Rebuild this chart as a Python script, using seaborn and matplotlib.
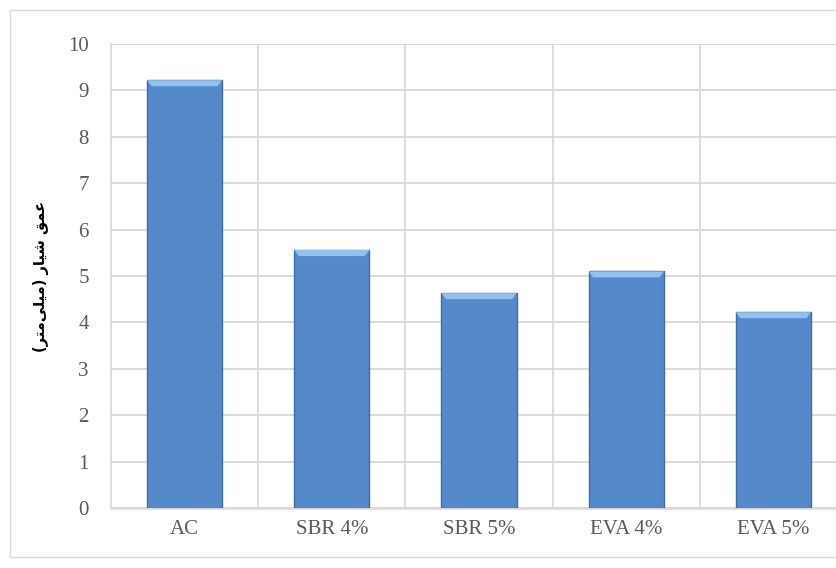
import matplotlib
matplotlib.use("Agg")
import matplotlib.pyplot as plt
from matplotlib.patches import Rectangle, Polygon
from matplotlib.ticker import MultipleLocator, FixedLocator
import matplotlib.patheffects as pe
import seaborn as sns
import pandas as pd

# data
categories = ["AC", "SBR 4%", "SBR 5%", "EVA 4%", "EVA 5%"]
depth_mm = [9.22, 5.56, 4.63, 5.10, 4.22]

# "عمق شیار (میلی‌متر)" in shaped presentation forms, visual (left-to-right) order,
# since matplotlib does no Arabic shaping / bidi on its own
ylabel = ("(" + "\uFEAE\uFE98\uFEE3" + "\uFEF0\uFEE0\uFEF4\uFEE3" + ")"
          + " " + "\uFEAD\uFE8E\uFEF4\uFEB7"
          + " " + "\uFED6\uFEE4\uFECB")

sns.set_style("white")
plt.rcParams['font.family'] = ['Liberation Serif', 'DejaVu Serif']

df = pd.DataFrame({"cat": categories, "val": depth_mm})

fig = plt.figure(figsize=(8.37, 5.68), dpi=100)
# axes runs past the right edge, as the reference is cropped there
ax = fig.add_axes([111/837, 60/568, 736/837, 464/568])

grid_c = "#D9D9D9"
sns.barplot(data=df, x="cat", y="val", color="#558ACA", width=0.51,
            edgecolor="#3E6DA3", linewidth=1.0, saturation=1, ax=ax, zorder=3)

for p in ax.patches:
    p.set_path_effects([pe.SimplePatchShadow(offset=(0, -2), shadow_rgbFace="#7a7a7a", alpha=0.35),
                        pe.Normal()])
    x, w, top = p.get_x(), p.get_width(), p.get_height()
    dx, dy = w * 0.06, 0.13
    bevel = Polygon([(x, top), (x + w, top), (x + w - dx, top - dy), (x + dx, top - dy)],
                    closed=True, facecolor="#93C0EE", edgecolor="none", zorder=4)
    ax.add_patch(bevel)

ax.set_xlim(-0.5, 4.5)
ax.set_ylim(0, 10)
ax.yaxis.set_major_locator(MultipleLocator(1))
ax.xaxis.set_minor_locator(FixedLocator([0.5, 1.5, 2.5, 3.5, 4.5]))
ax.grid(axis="y", which="major", color=grid_c, linewidth=1.3, zorder=0)
ax.grid(axis="x", which="minor", color=grid_c, linewidth=1.3, zorder=0)
ax.grid(axis="x", which="major", visible=False)
ax.set_axisbelow(True)

for s in ["top", "right"]:
    ax.spines[s].set_visible(False)
ax.spines["left"].set_color(grid_c)
ax.spines["left"].set_linewidth(1.3)
ax.spines["bottom"].set_color(grid_c)
ax.spines["bottom"].set_linewidth(1.8)

ax.tick_params(axis="both", which="both", length=0, labelsize=15, labelcolor="#595959")
ax.tick_params(axis="y", pad=16)
ax.tick_params(axis="x", pad=9)
ax.set_xlabel("")
ax.set_ylabel(ylabel, family=["DejaVu Sans"], fontweight="bold", fontsize=10.5,
              color="black")
ax.yaxis.set_label_coords(-0.084, 0.5)

# outer chart frame
fig.patches.append(Rectangle((10/837, 11/568), 1.0, 547/568, transform=fig.transFigure,
                             fill=False, edgecolor=grid_c, linewidth=1.0))

fig.savefig("out.png", dpi=100)
